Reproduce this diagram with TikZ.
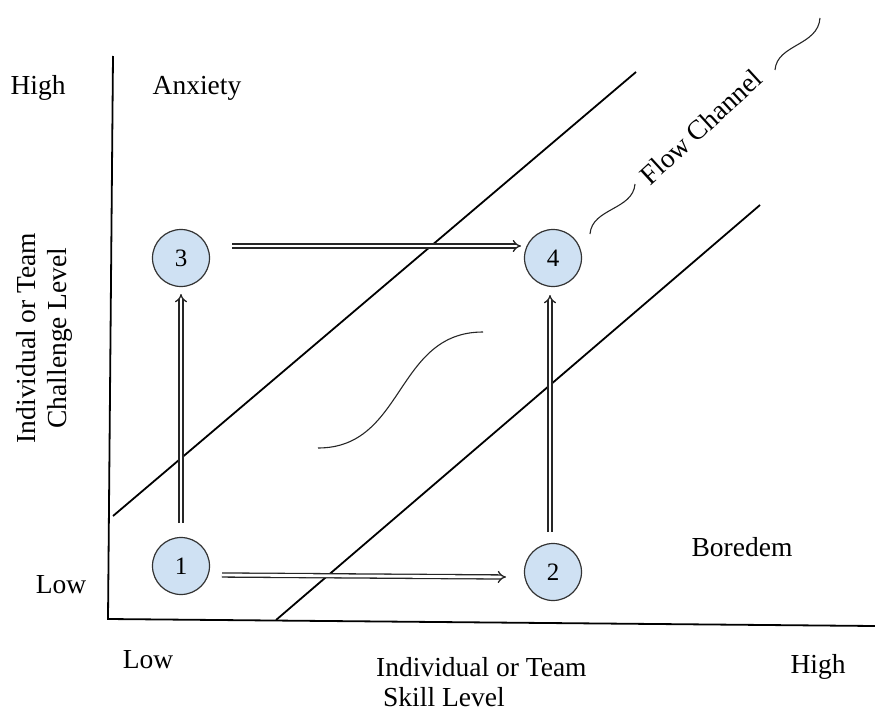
\documentclass[tikz,border=0pt]{standalone}
\usepackage{fontspec}
\setmainfont{Liberation Serif}
\usetikzlibrary{arrows.meta}
\begin{document}
\begin{tikzpicture}[x=1pt,y=-1pt,
  lbl/.style={font=\fontsize{27.5}{31}\selectfont, inner sep=0pt},
  stage/.style={circle, draw=black!80, line width=1.2pt, fill={rgb,255:red,207;green,225;blue,243},
    minimum size=57pt, inner sep=0pt, font=\fontsize{25}{28}\selectfont},
  axis/.style={line width=1.8pt, black},
  bound/.style={line width=1.8pt, black},
  wave/.style={line width=1.1pt, black!85},
  dbl/.style={draw=black!85, double=white, double distance=2.8pt, line width=1.3pt, -{Implies}}]
\useasboundingbox (0,0) rectangle (875,712);

% axes
\coordinate (ytop) at (113,56);
\coordinate (orig) at (108,619);
\coordinate (xend) at (875,626);
\draw[axis] (ytop) -- (orig) -- (xend);

% flow channel boundaries
\coordinate (ua) at (113,516);
\coordinate (ub) at (636,72);
\coordinate (la) at (276,620);
\coordinate (lb) at (760,205);
\draw[bound] (ua) -- (ub);
\draw[bound] (la) -- (lb);

% stages
\node[stage] (n3) at (181,258) {3};
\node[stage] (n4) at (553,258) {4};
\node[stage] (n1) at (181,566) {1};
\node[stage] (n2) at (553,572) {2};

% transitions
\draw[dbl] ([shift={(51,-12)}]n3.center) -- ([shift={(-32,-12)}]n4.center);
\draw[dbl] ([shift={(41,9)}]n1.center) -- ([shift={(-47,5)}]n2.center);
\draw[dbl] ([shift={(0,-43)}]n1.center) -- ([shift={(0,36)}]n3.center);
\draw[dbl] ([shift={(-3,-40)}]n2.center) -- ([shift={(-3,37)}]n4.center);

% curves
\coordinate (sa) at (318,448);
\coordinate (sb) at (483,332);
\draw[wave] (sa) .. controls (405,448) and (395,332) .. (sb);
\coordinate (wa) at (590,234);
\coordinate (wb) at (635,184);
\draw[wave] (wa) .. controls (592,208) and (633,210) .. (wb);
\coordinate (wc) at (775,70);
\coordinate (wd) at (820,18);
\draw[wave] (wc) .. controls (777,44) and (818,46) .. (wd);

% labels
\node[lbl] (hiy) at (38,88) {High};
\node[lbl] (anx) at (197,88) {Anxiety};
\node[lbl] (loy) at (61,585) {Low};
\node[lbl] (bor) at (742,547) {Boredem};
\node[lbl] (lox) at (148,660) {Low};
\node[lbl] (hix) at (818,667) {High};
\node[lbl, anchor=west] (sk1) at (376,667) {Individual or Team};
\node[lbl, anchor=west] (sk2) at (383,697) {Skill Level};
\node[lbl, rotate=90, align=center] (ch) at (44,338) {Individual or Team\\Challenge Level};
\node[lbl, rotate=42.5] (fc) at (701,127) {Flow Channel};
\end{tikzpicture}
\end{document}
